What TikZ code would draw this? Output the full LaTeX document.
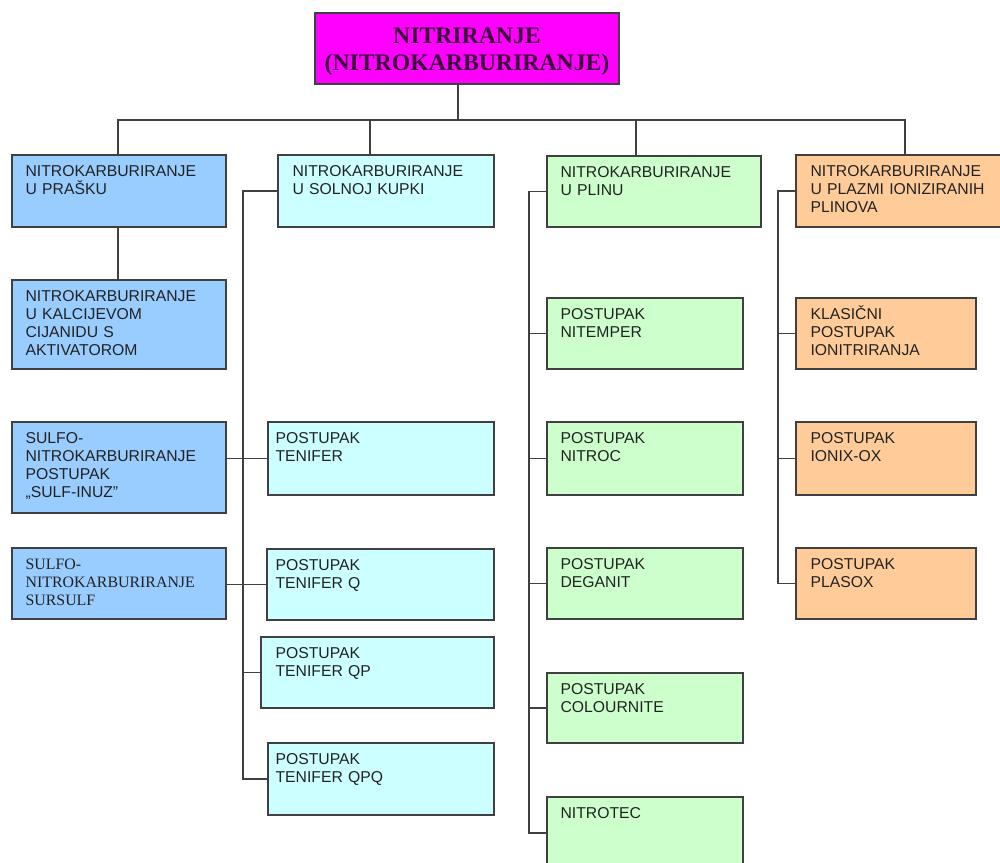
\documentclass[tikz,border=0pt]{standalone}
\usepackage{fontspec}
\setmainfont{Liberation Sans}
\newfontfamily\serifx{Liberation Serif}
\usetikzlibrary{fit}
\definecolor{bl}{HTML}{99CCFF}
\definecolor{cy}{HTML}{CCFFFF}
\definecolor{gr}{HTML}{CCFFCC}
\definecolor{orr}{HTML}{FFCC99}
\definecolor{mg}{HTML}{FF00FF}
\definecolor{ln}{HTML}{404040}
\definecolor{tt}{HTML}{3A003A}
\definecolor{txt}{HTML}{222222}
\begin{document}
\begin{tikzpicture}[x=0.75pt,y=-0.75pt,
  bx/.style={draw=ln, line width=1pt, inner sep=0pt, fill=#1},
  lbl/.style={anchor=base west, inner sep=0pt, text width=170pt, align=left,
    font=\fontsize{11.8}{13.5}\selectfont, text=txt},
  slbl/.style={lbl, font=\serifx\fontsize{11.9}{13.5}\selectfont},
  conn/.style={draw=ln, line width=1pt}]
\useasboundingbox (0,0) rectangle (1000,863);
\clip (0,0) rectangle (1000,863);
\fill[white] (0,0) rectangle (1000,863);

% title
\node[bx=mg, fit={(315,13)(619,84)}] (top) {};
\node[inner sep=0pt, align=center, text=tt,
  font=\serifx\bfseries\fontsize{17.8}{20.25}\selectfont] (topt) at ([yshift=-2.5pt]top.center)
  {NITRIRANJE\\(NITROKARBURIRANJE)};

% column 1
\node[bx=bl, fit={(12,155)(226,227)}] (c1) {};
\node[bx=bl, fit={(12,280)(226,369)}] (b1) {};
\node[bx=bl, fit={(12,422)(226,513)}] (b3) {};
\node[bx=bl, fit={(12,548)(226,619)}] (b4) {};
% column 2
\node[bx=cy, fit={(278,155)(494,227)}] (c2) {};
\node[bx=cy, fit={(268,422)(494,495)}] (t1) {};
\node[bx=cy, fit={(267,549)(494,620)}] (t2) {};
\node[bx=cy, fit={(261,637)(494,708)}] (t3) {};
\node[bx=cy, fit={(268,743)(494,815)}] (t4) {};
% column 3
\node[bx=gr, fit={(547,156)(761,227)}] (c3) {};
\node[bx=gr, fit={(547,298)(743,369)}] (g1) {};
\node[bx=gr, fit={(547,422)(743,495)}] (g2) {};
\node[bx=gr, fit={(547,548)(743,619)}] (g3) {};
\node[bx=gr, fit={(547,673)(743,743)}] (g4) {};
\node[bx=gr, fit={(547,797)(743,869)}] (g5) {};
% column 4
\node[bx=orr, fit={(796,155)(1010,227)}] (c4) {};
\node[bx=orr, fit={(796,298)(976,369)}] (o1) {};
\node[bx=orr, fit={(796,422)(976,495)}] (o2) {};
\node[bx=orr, fit={(796,548)(976,619)}] (o3) {};

% texts
\node[lbl] (c1t) at ([xshift=10.5pt,yshift=-16.9pt]c1.north west) {NITROKARBURIRANJE\\U PRAŠKU};
\node[lbl] (b1t) at ([xshift=10.5pt,yshift=-16.9pt]b1.north west) {NITROKARBURIRANJE\\U KALCIJEVOM\\CIJANIDU S\\AKTIVATOROM};
\node[lbl] (b3t) at ([xshift=10.5pt,yshift=-16.9pt]b3.north west) {SULFO-\\NITROKARBURIRANJE\\POSTUPAK\\„SULF-INUZ"};
\node[slbl] (b4t) at ([xshift=10.5pt,yshift=-16.9pt]b4.north west) {SULFO-\\NITROKARBURIRANJE\\SURSULF};
\node[lbl] (c2t) at ([xshift=11.25pt,yshift=-16.9pt]c2.north west) {NITROKARBURIRANJE\\U SOLNOJ  KUPKI};
\node[lbl] (t1t) at ([xshift=6pt,yshift=-16.9pt]t1.north west) {POSTUPAK\\TENIFER};
\node[lbl] (t2t) at ([xshift=6.75pt,yshift=-16.9pt]t2.north west) {POSTUPAK\\TENIFER Q};
\node[lbl] (t3t) at ([xshift=11.25pt,yshift=-16.9pt]t3.north west) {POSTUPAK\\TENIFER QP};
\node[lbl] (t4t) at ([xshift=6pt,yshift=-16.9pt]t4.north west) {POSTUPAK\\TENIFER QPQ};
\node[lbl] (c3t) at ([xshift=10.5pt,yshift=-16.9pt]c3.north west) {NITROKARBURIRANJE\\U PLINU};
\node[lbl] (g1t) at ([xshift=10.5pt,yshift=-16.9pt]g1.north west) {POSTUPAK\\NITEMPER};
\node[lbl] (g2t) at ([xshift=10.5pt,yshift=-16.9pt]g2.north west) {POSTUPAK\\NITROC};
\node[lbl] (g3t) at ([xshift=10.5pt,yshift=-16.9pt]g3.north west) {POSTUPAK\\DEGANIT};
\node[lbl] (g4t) at ([xshift=10.5pt,yshift=-16.9pt]g4.north west) {POSTUPAK\\COLOURNITE};
\node[lbl] (g5t) at ([xshift=10.5pt,yshift=-16.9pt]g5.north west) {NITROTEC};
\node[lbl] (c4t) at ([xshift=11.25pt,yshift=-16.9pt]c4.north west) {NITROKARBURIRANJE\\U PLAZMI IONIZIRANIH\\PLINOVA};
\node[lbl] (o1t) at ([xshift=11.25pt,yshift=-16.9pt]o1.north west) {KLASIČNI\\POSTUPAK\\IONITRIRANJA};
\node[lbl] (o2t) at ([xshift=11.25pt,yshift=-16.9pt]o2.north west) {POSTUPAK\\IONIX-OX};
\node[lbl] (o3t) at ([xshift=11.25pt,yshift=-16.9pt]o3.north west) {POSTUPAK\\PLASOX};

% connectors
\coordinate (j0) at (458,120);
\coordinate (d1) at (118,120);
\coordinate (d2) at (370,120);
\coordinate (d3) at (636,120);
\coordinate (d4) at (905,120);
\coordinate (s2) at (243,0);
\coordinate (s3) at (529,0);
\coordinate (s4) at (778,0);

\draw[conn] (j0 |- top.south) -- (j0);
\draw[conn] (d1 |- c1.north) -- (d1) -- (d4) -- (d4 |- c4.north);
\draw[conn] (d2) -- (d2 |- c2.north);
\draw[conn] (d3) -- (d3 |- c3.north);
\draw[conn] (d1 |- c1.south) -- (d1 |- b1.north);

\draw[conn] (c2.west) -- (c2.west -| s2) -- (s2 |- t4.west) -- (t4.west);
\draw[conn] (b3.east |- t1.west) -- (t1.west);
\draw[conn] (b4.east |- t2.west) -- (t2.west);
\draw[conn] (s2 |- t3.west) -- (t3.west);

\draw[conn] (c3.west) -- (c3.west -| s3) -- (s3 |- g5.west) -- (g5.west);
\draw[conn] (s3 |- g1.west) -- (g1.west);
\draw[conn] (s3 |- g2.west) -- (g2.west);
\draw[conn] (s3 |- g3.west) -- (g3.west);
\draw[conn] (s3 |- g4.west) -- (g4.west);

\draw[conn] (c4.west) -- (c4.west -| s4) -- (s4 |- o3.west) -- (o3.west);
\draw[conn] (s4 |- o1.west) -- (o1.west);
\draw[conn] (s4 |- o2.west) -- (o2.west);
\end{tikzpicture}
\end{document}
